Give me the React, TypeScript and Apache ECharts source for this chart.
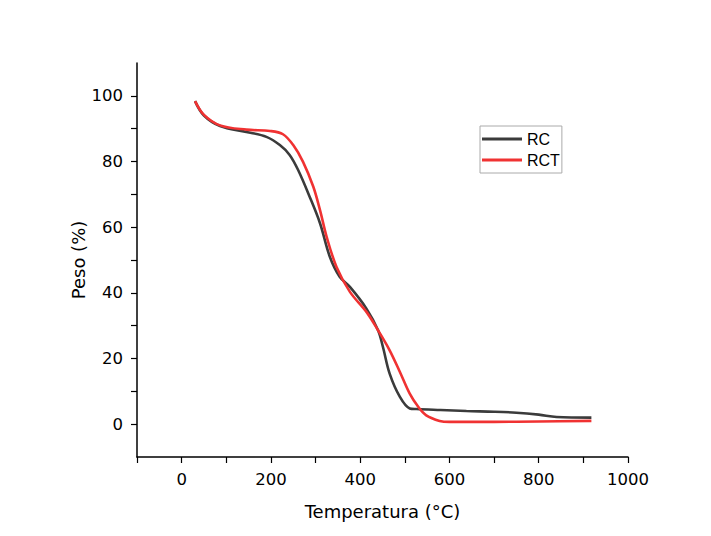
import React, { useEffect, useRef } from "react";
import * as echarts from "echarts";

const rcTemp = [30, 50, 86, 145, 190, 220, 242, 261, 287, 310, 332, 354, 377, 414, 440, 451, 466, 489, 511, 526, 580, 638, 700, 750, 800, 840, 918];
const rcPeso = [98.4, 94.0, 90.8, 89.0, 87.5, 85.0, 82.0, 77.4, 69.2, 61.2, 51.0, 44.9, 41.8, 35.2, 28.6, 23.5, 15.4, 8.3, 4.8, 4.6, 4.3, 4.0, 3.8, 3.5, 2.9, 2.2, 2.0];

const rctTemp = [30, 50, 86, 145, 198, 227, 250, 272, 295, 310, 325, 347, 377, 414, 440, 466, 489, 511, 530, 548, 578, 600, 700, 800, 918];
const rctPeso = [98.4, 94.2, 91.0, 89.7, 89.3, 88.3, 85.0, 79.9, 72.3, 65.2, 57.0, 47.9, 40.3, 34.2, 28.6, 22.5, 15.9, 9.3, 5.3, 2.7, 1.0, 0.7, 0.7, 0.8, 1.0];

const xTicks = [0, 200, 400, 600, 800, 1000];
const yTicks = [0, 20, 40, 60, 80, 100];

export default function App() {
  const ref = useRef<HTMLDivElement>(null);
  useEffect(() => {
    if (!ref.current) return;
    const chart = echarts.init(ref.current, null, { renderer: "svg" });
    const font = "DejaVu Sans, Arial, sans-serif";
    const legendFont = "Liberation Sans, Arial, sans-serif";
    chart.setOption({
      animation: false,
      backgroundColor: "#ffffff",
      grid: { left: 137, right: 83, top: 63, bottom: 79, containLabel: false },
      legend: {
        orient: "vertical",
        left: 480,
        top: 126,
        borderColor: "#aaaaaa",
        borderWidth: 1,
        borderRadius: 0,
        padding: [4, 2, 4, 2],
        itemGap: 3,
        itemWidth: 40,
        itemHeight: 3,
        icon: "rect",
        textStyle: { fontFamily: legendFont, fontSize: 16, color: "#000", lineHeight: 18 },
        data: ["RC", "RCT"],
      },
      xAxis: {
        type: "value",
        min: -100,
        max: 1000,
        interval: 100,
        name: "Temperatura (°C)",
        nameLocation: "middle",
        nameGap: 45,
        nameTextStyle: { fontFamily: font, fontSize: 18, color: "#000" },
        axisLine: { show: true, onZero: false, lineStyle: { color: "#000", width: 1.5 } },
        axisTick: { show: true, length: 6, lineStyle: { color: "#000", width: 1.2 }, inside: false },
        splitLine: { show: false },
        axisLabel: {
          fontFamily: font,
          fontSize: 16.5,
          color: "#000",
          margin: 14,
          formatter: (v: number) => (xTicks.includes(v) ? String(v) : ""),
        },
      },
      yAxis: {
        type: "value",
        min: -10,
        max: 110,
        interval: 10,
        name: "Peso (%)",
        nameLocation: "middle",
        nameGap: 50,
        nameMoveOverlap: false,
        nameTextStyle: { fontFamily: font, fontSize: 18, color: "#000" },
        axisLine: { show: true, onZero: false, lineStyle: { color: "#000", width: 1.5 } },
        axisTick: { show: true, length: 6, lineStyle: { color: "#000", width: 1.2 } },
        splitLine: { show: false },
        axisLabel: {
          fontFamily: font,
          fontSize: 16.5,
          color: "#000",
          margin: 14,
          showMinLabel: false,
          showMaxLabel: false,
          formatter: (v: number) => (yTicks.includes(v) ? String(v) : ""),
        },
      },
      series: [
        {
          name: "RC",
          type: "line",
          data: rcTemp.map((t, i) => [t, rcPeso[i]]),
          smooth: 0.35,
          symbol: "none",
          lineStyle: { color: "#3b3b3b", width: 2.6 },
          itemStyle: { color: "#3b3b3b" },
        },
        {
          name: "RCT",
          type: "line",
          data: rctTemp.map((t, i) => [t, rctPeso[i]]),
          smooth: 0.35,
          symbol: "none",
          lineStyle: { color: "#f03232", width: 2.6 },
          itemStyle: { color: "#f03232" },
        },
      ],
    });
    return () => chart.dispose();
  }, []);
  return <div ref={ref} style={{ width: 711, height: 536, position: "absolute", left: 0, top: 0 }} />;
}
